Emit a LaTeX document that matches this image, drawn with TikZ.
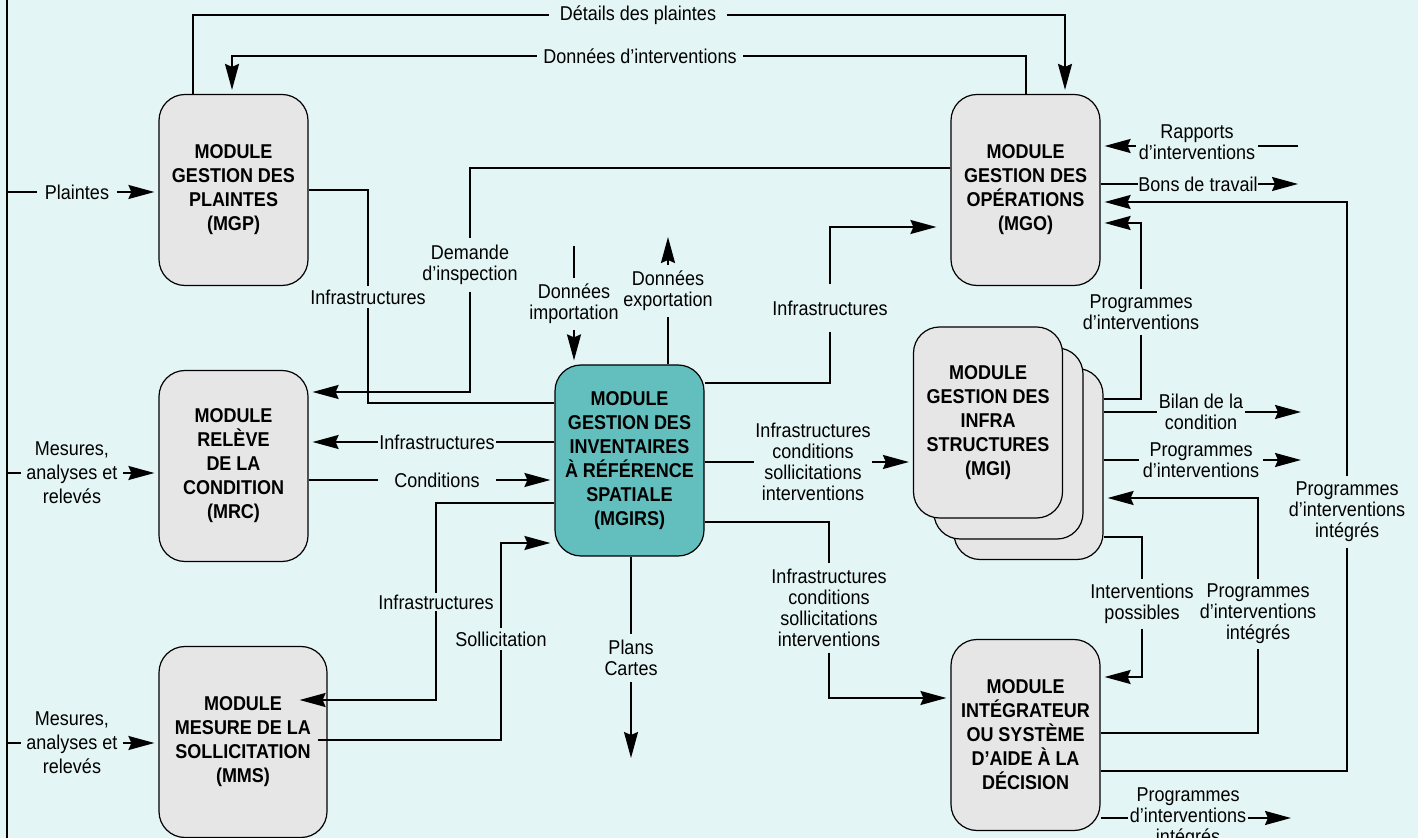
\documentclass[tikz,border=0pt]{standalone}
\usepackage{fontspec}
\setmainfont{Liberation Sans}[FakeStretch=0.9]
\usetikzlibrary{arrows.meta}
\definecolor{fond}{RGB}{228,245,245}
\definecolor{gris}{RGB}{230,230,230}
\definecolor{sarcelle}{RGB}{99,191,189}
\begin{document}
\begin{tikzpicture}[x=0.5pt,y=-0.5pt,line width=0.9pt,
  >={Stealth[length=13pt,width=7pt,inset=1.5pt]},
  module/.style={draw,line width=0.6pt,fill=gris,rounded corners=13pt,align=center,font=\bfseries,
    minimum width=74.5pt,minimum height=95.5pt,inner sep=0pt},
  lbl/.style={align=center,inner xsep=1pt,inner ysep=1.5pt,font=\fontsize{10}{10.5}\selectfont},
  fl/.style={->,shorten >=2pt}]
\fill[fond] (0,0) rectangle (1418,838);
\useasboundingbox (0,0) rectangle (1418,838);
\draw[line width=0.7pt] (7,0) -- (7,838);

% modules
\node[module] (mgp) at (233.5,190) {MODULE\\GESTION DES\\PLAINTES\\(MGP)};
\node[module] (mgo) at (1025.5,190) {MODULE\\GESTION DES\\OPÉRATIONS\\(MGO)};
\node[module] (mrc) at (233.5,466) {MODULE\\RELÈVE\\DE LA\\CONDITION\\(MRC)};
\node[module,fill=sarcelle] (mgirs) at (629.5,460.5) {MODULE\\GESTION DES\\INVENTAIRES\\À RÉFÉRENCE\\SPATIALE\\(MGIRS)};
\node[module] (mgi3) at (1028.5,464) {};
\node[module] (mgi2) at (1008.5,443.5) {};
\node[module] (mgi) at (988,422.5) {MODULE\\GESTION DES\\INFRA\\STRUCTURES\\(MGI)};
\node[module,minimum width=84pt] (mms) at (243,742) {MODULE\\MESURE DE LA\\SOLLICITATION\\(MMS)};
\node[module] (mid) at (1025.5,735) {MODULE\\INTÉGRATEUR\\OU SYSTÈME\\D’AIDE À LA\\DÉCISION};

% etiquettes
\node[lbl,inner xsep=3.5pt] (lplt) at (77,192) {Plaintes};
\node[lbl,inner xsep=2.5pt,font=\fontsize{10}{12}\selectfont] (lmes1) at (72,473) {Mesures,\\analyses et\\relevés};
\node[lbl,inner xsep=2.5pt,font=\fontsize{10}{12}\selectfont] (lmes2) at (72,743) {Mesures,\\analyses et\\relevés};
\node[lbl,inner xsep=5pt] (ldet) at (638,15) {Détails des plaintes};
\node[lbl,inner xsep=3pt] (ldon) at (640,56) {Données d’interventions};
\node[lbl,inner ysep=3pt] (ldem) at (470,265) {Demande\\d’inspection};
\node[lbl] (linf1) at (368,297) {Infrastructures};
\node[lbl,inner xsep=0.5pt] (linf2) at (437,442) {Infrastructures};
\node[lbl,inner xsep=8pt] (lcond) at (437,480) {Conditions};
\node[lbl,inner ysep=0.5pt] (linf3) at (436,602) {Infrastructures};
\node[lbl] (lsol) at (501,639) {Sollicitation};
\node[lbl,inner ysep=2.5pt] (limp) at (574,304) {Données\\importation};
\node[lbl,inner ysep=2.5pt] (lexp) at (668,291) {Données\\exportation};
\node[lbl,inner ysep=8pt] (linf4) at (830,308) {Infrastructures};
\node[lbl,inner xsep=0.5pt] (lics1) at (813,462) {Infrastructures\\conditions\\sollicitations\\interventions};
\node[lbl,inner ysep=2.5pt] (lics2) at (829,608) {Infrastructures\\conditions\\sollicitations\\interventions};
\node[lbl,inner ysep=2.5pt] (lplan) at (631,658) {Plans\\Cartes};
\node[lbl] (lrap) at (1197,142) {Rapports\\d’interventions};
\node[lbl,inner xsep=0pt] (lbons) at (1198,184) {Bons de travail};
\node[lbl,inner ysep=2.5pt] (lpi1) at (1141,312) {Programmes\\d’interventions};
\node[lbl,inner xsep=0.5pt] (lbil) at (1201,412) {Bilan de la\\condition};
\node[lbl,inner xsep=1.5pt] (lpi2) at (1201,460) {Programmes\\d’interventions};
\node[lbl,inner ysep=2.5pt] (lpii1) at (1347,512) {Programmes\\d’interventions\\intégrés};
\node[lbl,inner ysep=2pt] (lint) at (1142,604) {Interventions\\possibles};
\node[lbl,inner ysep=2pt] (lpii2) at (1258,614) {Programmes\\d’interventions\\intégrés};
\node[lbl,inner xsep=0.5pt] (lpii3) at (1188,818) {Programmes\\d’interventions\\intégrés};

% extremites libres
\coordinate (bP) at (7,192);
\coordinate (bM1) at (7,473);
\coordinate (bM2) at (7,743);
\coordinate (impH) at (574,246);
\coordinate (expF) at (668,233);
\coordinate (plansF) at (631,762);
\coordinate (rapD) at (1298,146);
\coordinate (bonsF) at (1302,184);
\coordinate (bilF) at (1305,412);
\coordinate (pi2F) at (1305,460);
\coordinate (pii3F) at (1295,818);
\coordinate (mmsA) at ([shift={(-16pt,21pt)}]mms.east);
\coordinate (mmsB) at ([shift={(-5pt,1pt)}]mms.east);

% entrees de gauche
\draw (bP) -- (lplt);
\draw[fl] (lplt) -- (lplt -| mgp.west);
\draw (bM1) -- (lmes1);
\draw[fl] (lmes1) -- (lmes1 -| mrc.west);
\draw (bM2) -- (lmes2);
\draw[fl] (lmes2) -- (lmes2 -| mms.west);

% liens du haut
\draw (mgp.north -| 193,0) |- (ldet);
\draw[fl] (ldet) -| (mgo.north -| 1065,0);
\draw (mgo.north -| 1026,0) |- (ldon);
\draw[fl] (ldon) -| (mgp.north -| 232,0);
\draw (mgo.west |- 0,168) -| (ldem);
\draw[fl] (ldem) |- (mrc.east |- 0,392);
\draw (mgp.east) -| (linf1);
\draw (linf1) |- (mgirs.west |- 0,403);

% MGIRS, cote gauche
\draw (mgirs.west |- linf2) -- (linf2);
\draw[fl] (linf2) -- (linf2 -| mrc.east);
\draw (mrc.east |- lcond) -- (lcond);
\draw[fl] (lcond) -- (lcond -| mgirs.west);
\draw (mgirs.west |- 0,503) -| (linf3);
\draw[fl] (linf3) |- (mmsA);
\draw (mmsB) -| (lsol);
\draw[fl] (lsol) |- (mgirs.west |- 0,543);

% MGIRS, haut et bas
\draw (impH) -- (limp);
\draw[fl] (limp) -- (limp |- mgirs.north);
\draw (mgirs.north -| lexp) -- (lexp);
\draw[fl] (lexp) -- (expF);
\draw (mgirs.south -| lplan) -- (lplan);
\draw[fl] (lplan) -- (plansF);

% MGIRS, cote droit
\draw (mgirs.east |- 0,383) -| (linf4);
\draw[fl,shorten >=7pt] (linf4) |- (mgo.west |- 0,227);
\draw (mgirs.east |- lics1) -- (lics1);
\draw[fl] (lics1) -- (lics1 -| mgi.west);
\draw (mgirs.east |- 0,522) -| (lics2);
\draw[fl] (lics2) |- (mid.west |- 0,698);

% MGO
\draw (rapD) -- (rapD -| lrap.east);
\draw[fl] (rapD -| lrap.west) -- (mgo.east |- rapD);
\draw (mgo.east |- lbons) -- (lbons);
\draw[fl] (lbons) -- (bonsF);

% MGI
\draw (mgi3.east |- 0,399) -| (lpi1);
\draw[fl] (lpi1) |- (mgo.east |- 0,223);
\draw (mgi3.east |- lbil) -- (lbil);
\draw[fl] (lbil) -- (bilF);
\draw (mgi3.east |- lpi2) -- (lpi2);
\draw[fl] (lpi2) -- (pi2F);
\draw (mgi3.east |- 0,537) -| (lint);
\draw[fl] (lint) |- (mid.east |- 0,677);

% MID
\draw (mid.east |- 0,733) -| (lpii2);
\draw[fl] (lpii2) |- (mgi3.east |- 0,498);
\draw (mid.east |- 0,771) -| (lpii1);
\draw[fl] (lpii1) |- (mgo.east |- 0,202);
\draw (mid.east |- lpii3) -- (lpii3);
\draw[fl] (lpii3) -- (pii3F);
\end{tikzpicture}
\end{document}
